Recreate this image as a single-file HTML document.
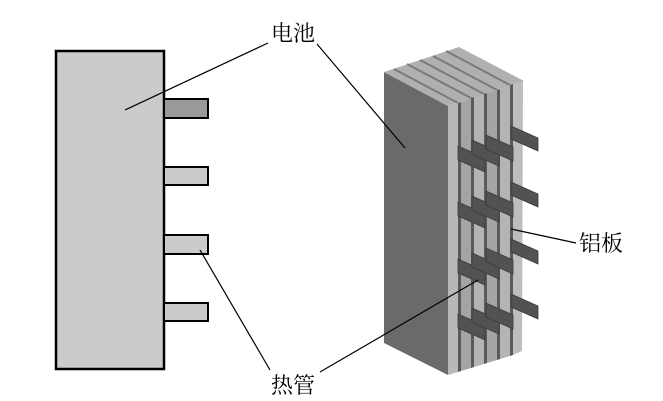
<!DOCTYPE html>
<html><head><meta charset="utf-8"><style>
html,body{margin:0;padding:0;background:#fff;width:663px;height:401px;overflow:hidden}
</style></head><body>
<svg width="663" height="401" viewBox="0 0 663 401" xmlns="http://www.w3.org/2000/svg">
<rect x="56" y="51" width="108" height="318" fill="#cbcbcb" stroke="#000" stroke-width="2.5"/>
<rect x="164" y="99" width="44" height="19" fill="#999" stroke="#000" stroke-width="2"/>
<rect x="164" y="167" width="44" height="18" fill="#cbcbcb" stroke="#000" stroke-width="2"/>
<rect x="164" y="235" width="44" height="19" fill="#cbcbcb" stroke="#000" stroke-width="2"/>
<rect x="164" y="303" width="44" height="18" fill="#cbcbcb" stroke="#000" stroke-width="2"/>

<polygon points="384,72 448,106 448,375 384,343" fill="#6a6a6a"/>
<polygon points="384,72 448,106 524,81 459,47" fill="#b0b0b0"/>
<g stroke="#7a7a7a" stroke-width="2">
<line x1="394" y1="69" x2="458" y2="103"/>
<line x1="407" y1="64" x2="471" y2="98"/>
<line x1="420" y1="60" x2="484" y2="94"/>
<line x1="433" y1="56" x2="497" y2="90"/>
<line x1="446" y1="51" x2="510" y2="85"/>
</g>
<g>
<polygon points="448,106 458,103 458,372 448,375" fill="#b8b8b8"/>
<polygon points="458,103 461,102 461,371 458,372" fill="#5a5a5a"/>
<polygon points="461,102 471,98 471,368 461,371" fill="#a4a4a4"/>
<polygon points="471,98 474,97 474,367 471,368" fill="#5a5a5a"/>
<polygon points="474,97 484,94 484,364 474,367" fill="#b4b4b4"/>
<polygon points="484,94 487,93 487,363 484,364" fill="#5a5a5a"/>
<polygon points="487,93 497,90 497,360 487,363" fill="#a4a4a4"/>
<polygon points="497,90 500,89 500,359 497,360" fill="#5a5a5a"/>
<polygon points="500,89 510,85 510,356 500,359" fill="#b4b4b4"/>
<polygon points="510,85 513,84 513,355 510,356" fill="#5a5a5a"/>
<polygon points="513,84 523,81 522,351 513,355" fill="#bdbdbd"/>
</g>
<g fill="#525252" stroke="#3a3a3a" stroke-width="0.8">
<g id="row">
<polygon points="458,146 485,158 485,172 458,160"/>
<polygon points="472,140 499,152 499,166 472,154"/>
<polygon points="486,135 513,147 513,161 486,149"/>
<polygon points="511,126 538,138 538,151 511,139"/>
</g>
<use href="#row" y="56"/>
<use href="#row" y="113"/>
<use href="#row" y="168"/>
</g>

<g stroke="#000" stroke-width="1.2">
<line x1="268" y1="43" x2="125" y2="110"/>
<line x1="317" y1="44" x2="405" y2="148"/>
<line x1="270" y1="370" x2="200" y2="250"/>
<line x1="320" y1="372" x2="478" y2="280"/>
<line x1="576" y1="243" x2="511" y2="229"/>
</g>
<g font-family="'Liberation Serif','Noto Serif CJK SC',serif" font-size="22" fill="#000">
<text x="271" y="41">电池</text>
<text x="271" y="393">热管</text>
<text x="579" y="251">铝板</text>
</g>
</svg>
</body></html>
